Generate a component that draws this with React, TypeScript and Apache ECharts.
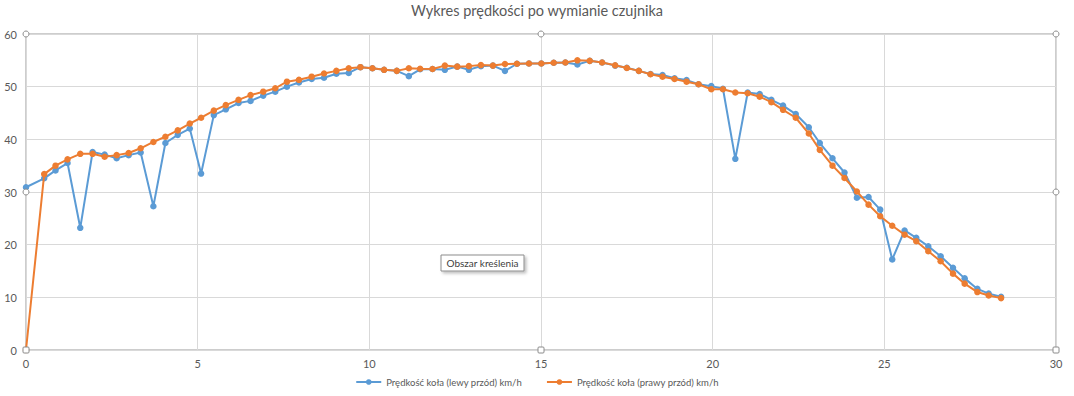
import React, { useEffect, useRef } from "react";
import * as echarts from "echarts";

const TITLE = "Wykres prędkości po wymianie czujnika";
const SERIES_NAMES = ["Prędkość koła (lewy przód) km/h", "Prędkość koła (prawy przód) km/h"];

const TIMES = [
  0, 0.53, 0.86, 1.21, 1.58, 1.94, 2.29, 2.64, 2.99, 3.34, 3.71, 4.06, 4.42, 4.77, 5.1, 5.47, 5.82,
  6.19, 6.54, 6.91, 7.26, 7.6, 7.95, 8.32, 8.68, 9.04, 9.4, 9.74, 10.09, 10.43, 10.8, 11.15, 11.48,
  11.84, 12.2, 12.56, 12.9, 13.25, 13.6, 13.95, 14.3, 14.65, 15.01, 15.37, 15.71, 16.06, 16.42,
  16.78, 17.16, 17.5, 17.85, 18.19, 18.54, 18.89, 19.24, 19.59, 19.96, 20.3, 20.66, 21.02, 21.37,
  21.71, 22.05, 22.42, 22.8, 23.12, 23.49, 23.84, 24.2, 24.54, 24.88, 25.23, 25.59, 25.93, 26.28,
  26.64, 27.0, 27.34, 27.71, 28.04, 28.4,
];

const LEFT_FRONT = [
  30.9, 32.6, 34.1, 35.5, 23.2, 37.6, 37.1, 36.4, 37.0, 37.5, 27.3, 39.3, 40.85, 42.05, 33.5, 44.6,
  45.7, 46.9, 47.3, 48.3, 49.05, 50.0, 50.8, 51.45, 51.7, 52.45, 52.6, 53.7, 53.5, 53.2, 53.0, 52.0,
  53.3, 53.35, 53.2, 53.8, 53.2, 53.9, 54.0, 53.0, 54.35, 54.4, 54.4, 54.55, 54.6, 54.2, 54.9, 54.6,
  54.0, 53.6, 53.0, 52.4, 52.2, 51.6, 51.25, 50.45, 50.1, 49.6, 36.3, 48.9, 48.6, 47.5, 46.4, 44.8,
  42.3, 39.3, 36.4, 33.7, 28.9, 29.05, 26.65, 17.2, 22.7, 21.3, 19.7, 17.8, 15.6, 13.6, 11.6, 10.7,
  10.1,
];

const RIGHT_FRONT = [
  0, 33.4, 35.0, 36.2, 37.25, 37.25, 36.7, 37.0, 37.4, 38.3, 39.5, 40.5, 41.7, 43.0, 44.1, 45.45,
  46.5, 47.5, 48.4, 49.05, 49.7, 50.95, 51.3, 51.9, 52.5, 53.0, 53.5, 53.7, 53.5, 53.2, 53.0, 53.5,
  53.4, 53.35, 54.0, 53.8, 53.9, 54.1, 54.0, 54.3, 54.35, 54.4, 54.4, 54.55, 54.6, 55.0, 54.9, 54.6,
  54.05, 53.55, 53.0, 52.35, 51.9, 51.45, 50.95, 50.45, 49.5, 49.5, 48.9, 48.75, 48.1, 47.05, 45.6,
  44.1, 41.1, 38.0, 35.0, 32.65, 30.1, 27.6, 25.4, 23.6, 21.9, 20.65, 18.75, 16.85, 14.5, 12.6,
  11.0, 10.35, 9.85,
];

const X_MIN = 0;
const X_MAX = 30;
const X_STEP = 5;
const Y_MIN = 0;
const Y_MAX = 60;
const Y_STEP = 10;

const COLORS = ["#5b9bd5", "#ed7d31"];
const FONT = "Lato, 'Open Sans', sans-serif";

export default function App() {
  const ref = useRef<HTMLDivElement>(null);

  useEffect(() => {
    document.body.style.margin = "0";
    if (!ref.current) return;
    const chart = echarts.init(ref.current, null, { renderer: "svg" });

    const handleStyle = { fill: "#ffffff", stroke: "#8c8c8c", lineWidth: 1 };
    const circ = (x: number, y: number) => ({
      type: "circle",
      shape: { cx: x, cy: y, r: 3 },
      style: handleStyle,
      z: 100,
    });
    const sq = (x: number, y: number) => ({
      type: "rect",
      shape: { x: x - 3, y: y - 3, width: 6, height: 6, r: 1 },
      style: handleStyle,
      z: 100,
    });

    chart.setOption({
      animation: false,
      backgroundColor: "#ffffff",
      textStyle: { fontFamily: FONT },
      color: COLORS,
      title: {
        text: TITLE,
        left: "center",
        top: -2,
        textStyle: { fontFamily: FONT, fontSize: 14.5, fontWeight: "normal", color: "#595959" },
      },
      legend: {
        bottom: 4,
        left: "center",
        itemWidth: 25,
        itemHeight: 7,
        itemGap: 24,
        textStyle: { fontFamily: FONT, fontSize: 9.5, color: "#595959" },
        data: SERIES_NAMES,
      },
      grid: {
        left: 26,
        right: 18,
        top: 34,
        bottom: 46,
        show: true,
        borderColor: "#9a9a9a",
        borderWidth: 1,
        backgroundColor: "transparent",
      },
      xAxis: {
        type: "value",
        min: X_MIN,
        max: X_MAX,
        interval: X_STEP,
        axisLine: { show: false },
        axisTick: { show: false },
        axisLabel: { color: "#595959", fontSize: 11, fontFamily: FONT, margin: 8 },
        splitLine: { show: true, lineStyle: { color: "#d9d9d9", width: 1 } },
      },
      yAxis: {
        type: "value",
        min: Y_MIN,
        max: Y_MAX,
        interval: Y_STEP,
        axisLine: { show: false },
        axisTick: { show: false },
        axisLabel: { color: "#595959", fontSize: 11, fontFamily: FONT, margin: 9 },
        splitLine: { show: true, lineStyle: { color: "#d9d9d9", width: 1 } },
      },
      series: [
        {
          name: SERIES_NAMES[0],
          type: "line",
          data: TIMES.map((t, i) => [t, LEFT_FRONT[i]]),
          symbol: "circle",
          symbolSize: 6.5,
          lineStyle: { width: 2, color: COLORS[0] },
          itemStyle: { color: COLORS[0] },
          z: 2,
        },
        {
          name: SERIES_NAMES[1],
          type: "line",
          data: TIMES.map((t, i) => [t, RIGHT_FRONT[i]]),
          symbol: "circle",
          symbolSize: 6.5,
          lineStyle: { width: 2, color: COLORS[1] },
          itemStyle: { color: COLORS[1] },
          z: 3,
        },
      ],
      graphic: [
        circ(26, 34),
        circ(541, 34),
        circ(1056, 34),
        circ(26, 192),
        circ(1056, 192),
        sq(26, 350),
        sq(541, 350),
        sq(1056, 350),
        {
          type: "rect",
          shape: { x: 441, y: 255, width: 83, height: 16 },
          style: {
            fill: "#ffffff",
            stroke: "#8c8c8c",
            lineWidth: 1,
            shadowBlur: 3,
            shadowOffsetX: 2,
            shadowOffsetY: 2,
            shadowColor: "rgba(0,0,0,0.25)",
          },
          z: 110,
        },
        {
          type: "text",
          x: 482.5,
          y: 263,
          style: {
            text: "Obszar kreślenia",
            fill: "#404040",
            font: `10px ${FONT}`,
            align: "center",
            verticalAlign: "middle",
          },
          z: 111,
        },
      ],
    });

    return () => chart.dispose();
  }, []);

  return <div ref={ref} style={{ width: 1074, height: 396 }} />;
}
